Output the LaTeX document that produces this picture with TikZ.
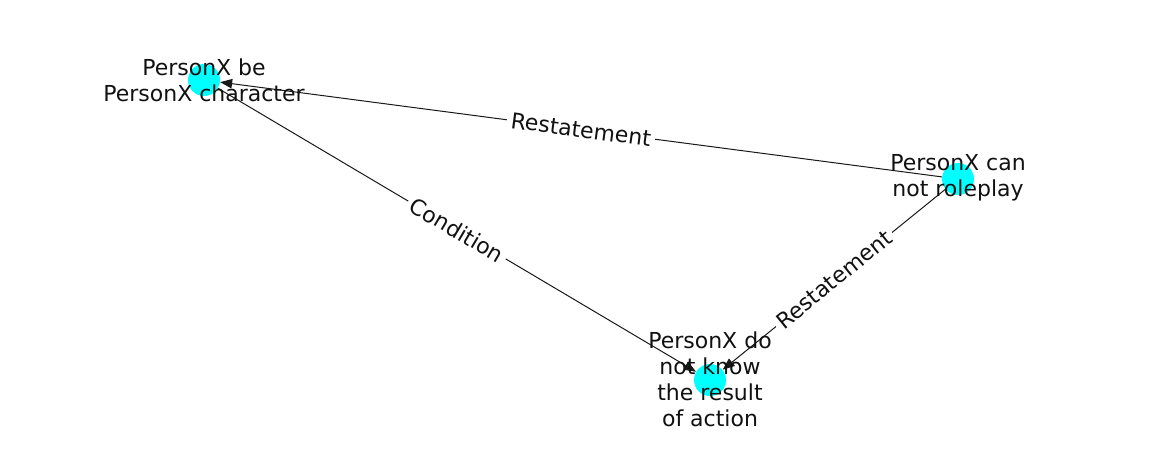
\documentclass[tikz,border=0pt]{standalone}
\usepackage{fontspec}
\setmainfont{DejaVu Sans}
\usetikzlibrary{arrows.meta}
\definecolor{nodecyan}{HTML}{00FFFF}
\definecolor{txt}{HTML}{111111}
\begin{document}
\begin{tikzpicture}[x=0.75pt,y=-0.75pt,
  dot/.style={circle,fill=nodecyan,draw=none,minimum size=24pt,inner sep=0pt},
  lbl/.style={align=center,text=txt,font=\fontsize{16.5pt}{19.5pt}\selectfont,inner sep=0pt},
  edge/.style={draw=black!90,line width=0.75pt,-{Triangle[length=9pt,width=7pt]}},
  elbl/.style={midway,sloped,fill=white,inner sep=3pt,text=txt,font=\fontsize{16.5pt}{19.5pt}\selectfont}
]
\useasboundingbox (0,0) rectangle (1162,462);
\node[dot] (a) at (204,80) {};
\node[dot] (b) at (958,179) {};
\node[dot] (c) at (710,380) {};
\draw[edge] (b) -- (a) node[elbl] {Restatement};
\draw[edge] (a) -- (c) node[elbl] {Condition};
\draw[edge] (b) -- (c) node[elbl] {Restatement};
\node[lbl] (ta) at (204,80) {PersonX be\\PersonX character};
\node[lbl] (tb) at (958,178) {PersonX can\\not roleplay};
\node[lbl] (tc) at (710,379) {PersonX do\\not know\\the result\\of action};
\end{tikzpicture}
\end{document}
